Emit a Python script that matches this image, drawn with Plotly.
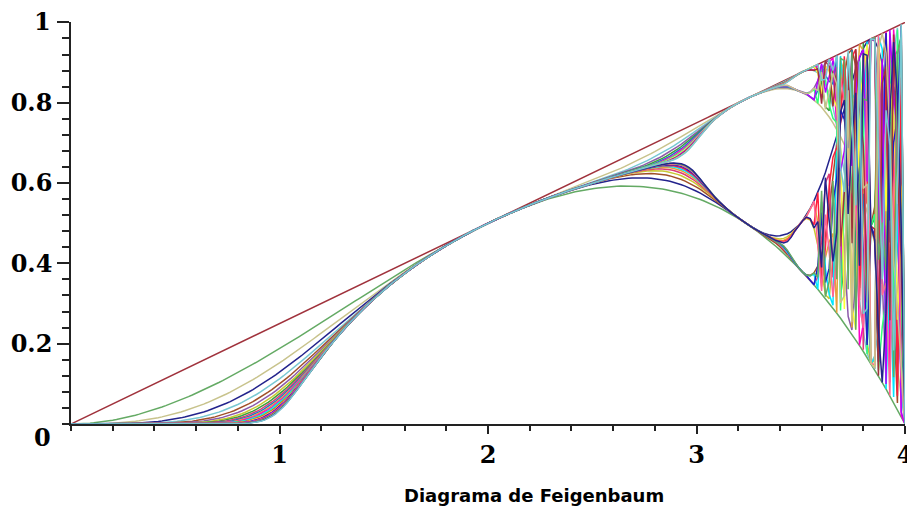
import numpy as np
import plotly.graph_objects as go

# --- data: iterates f^n(x0) of the logistic map f(x) = r x (1 - x), as functions of r
r_min, r_max = 0.0, 4.0
n_samples = 221
x0 = 0.5
n_iterates = 25
x_tick_vals = [1, 2, 3, 4]
x_tick_text = ["1", "2", "3", "4"]
y_tick_vals = [0.2, 0.4, 0.6, 0.8, 1.0]
y_tick_text = ["0.2", "0.4", "0.6", "0.8", "1"]
title_text = "Diagrama de Feigenbaum"

palette = [
    "#A0323C", "#64AA64", "#C8C38C", "#23238C", "#78C8D2",
    "#A05028", "#8C5AAA", "#C8C832", "#3CA03C", "#DC3C78",
    "#1E78C8", "#E6A03C", "#FF00C8", "#00E6FF", "#32FF78",
    "#FF1E3C", "#FFFF32", "#1E1EC8", "#B400FF", "#FF6496",
]

r = np.linspace(r_min, r_max, n_samples)
x = np.full_like(r, x0)
fig = go.Figure()
for n in range(1, n_iterates + 1):
    x = r * x * (1 - x)
    fig.add_trace(go.Scatter(
        x=r, y=x.copy(), mode="lines",
        line=dict(color=palette[(n - 1) % len(palette)], width=1.5),
        hoverinfo="skip", showlegend=False,
    ))

# page body has an 8px default margin, so the figure is 8px smaller on each axis
tickfont = dict(family="DejaVu Serif", size=24, color="black", weight="bold")
fig.update_layout(
    width=907, height=498,
    margin=dict(l=63, r=10, t=14, b=82),
    paper_bgcolor="white", plot_bgcolor="white",
    xaxis=dict(range=[r_min, r_max], showgrid=False, zeroline=False, automargin=False,
               showline=True, linecolor="#222", linewidth=1.5,
               tickvals=x_tick_vals, ticktext=x_tick_text,
               ticks="outside", ticklen=8, tickwidth=1.5, tickcolor="#222",
               tickfont=tickfont,
               minor=dict(dtick=0.2, tick0=0, ticks="outside", ticklen=5,
                          tickwidth=1.5, tickcolor="#222", showgrid=False)),
    yaxis=dict(range=[0, 1.001], showgrid=False, zeroline=False, automargin=False,
               showline=True, linecolor="#222", linewidth=1.5,
               tickvals=y_tick_vals, ticktext=y_tick_text[:-1] + [""],
               ticks="outside", ticklen=12, tickwidth=1.5, tickcolor="#222",
               tickfont=tickfont,
               minor=dict(dtick=0.04, tick0=0, ticks="outside", ticklen=7,
                          tickwidth=1.5, tickcolor="#222", showgrid=False)),
)
# end labels placed as annotations (as in the original, "0" sits below its tick)
fig.add_annotation(text="0", x=0, y=0, xref="paper", yref="y",
                   xanchor="right", yanchor="middle", xshift=-18, yshift=-13,
                   showarrow=False, font=tickfont)
fig.add_annotation(text=y_tick_text[-1], x=0, y=y_tick_vals[-1], xref="paper", yref="y",
                   xanchor="right", yanchor="middle", xshift=-18, yshift=1,
                   showarrow=False, font=tickfont)
fig.add_annotation(text=title_text, x=(534 - 71) / 834, y=(424 - 495) / 402,
                   xref="paper", yref="paper", xanchor="center", yanchor="middle",
                   showarrow=False,
                   font=dict(family="DejaVu Sans", size=18, color="black", weight="bold"))

fig.write_html("out.html")
